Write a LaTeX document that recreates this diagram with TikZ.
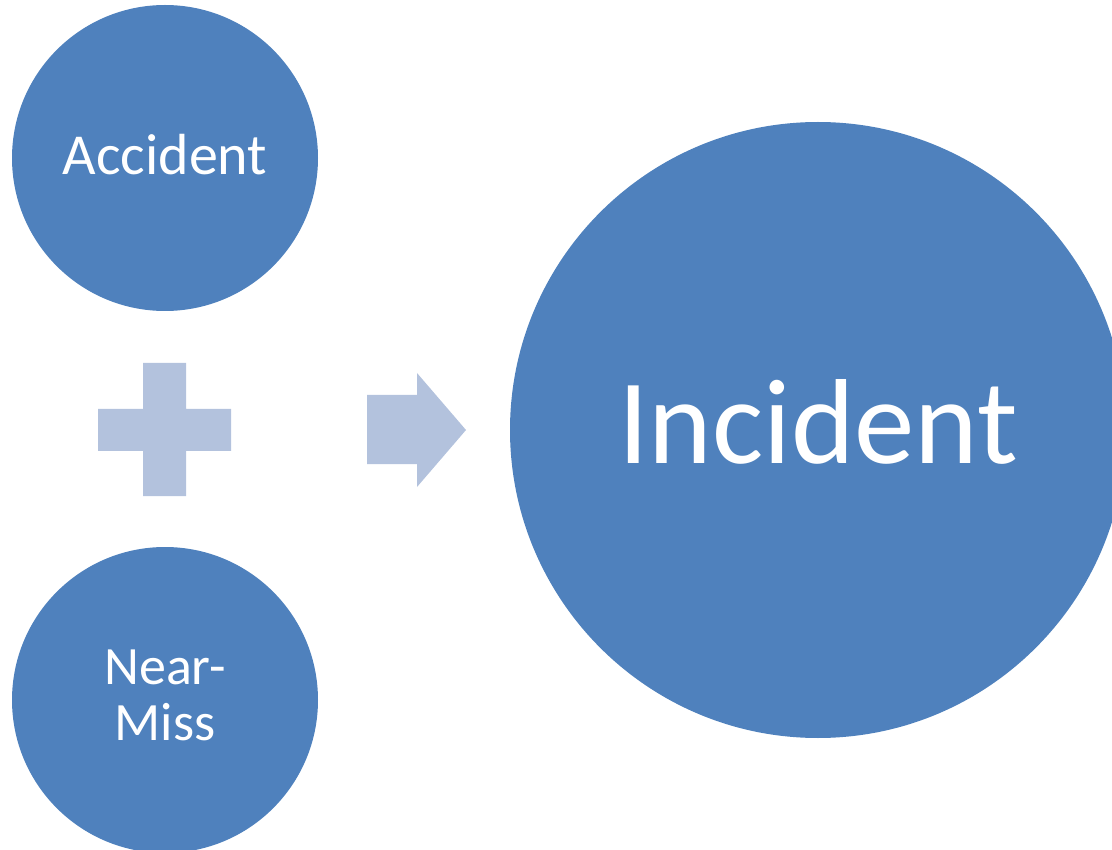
\documentclass[tikz,border=0pt]{standalone}
\usepackage{fontspec}
\setmainfont{Carlito}
\usetikzlibrary{positioning}
\definecolor{blobblue}{RGB}{79,129,189}
\definecolor{signblue}{RGB}{179,194,221}

\begin{document}
\begin{tikzpicture}[x=1pt,y=-1pt,
	blob/.style={circle, fill=blobblue, text=white, inner sep=0pt, align=center},
	sign/.style={fill=signblue, draw=none}]
			\useasboundingbox (0,0) rectangle (1112,850);
			
			\node[blob, minimum size=306pt, font=\fontsize{58}{70}\selectfont, text height=34pt, text depth=0pt] (accident) at (165,158) {Accident};
			\node[blob, minimum size=306pt, font=\fontsize{54}{56}\selectfont, text height=80pt, text depth=0pt] (nearmiss) at (165,700) {Near-\\Miss};
			\node[blob, minimum size=616pt, font=\fontsize{121}{140}\selectfont, text height=68pt, text depth=0pt] (incident) at (818,430) {Incident};
			
			% plus sign
			\fill[sign] (143,363) -- (186,363) -- (186,409) -- (231,409) -- (231,451) -- (186,451)
				-- (186,496) -- (143,496) -- (143,451) -- (98,451) -- (98,409) -- (143,409) -- cycle;
			% block arrow
			\fill[sign] (367,395) -- (417,395) -- (417,373) -- (466,430) -- (417,487) -- (417,464) -- (367,464) -- cycle;
\end{tikzpicture}
\end{document}
